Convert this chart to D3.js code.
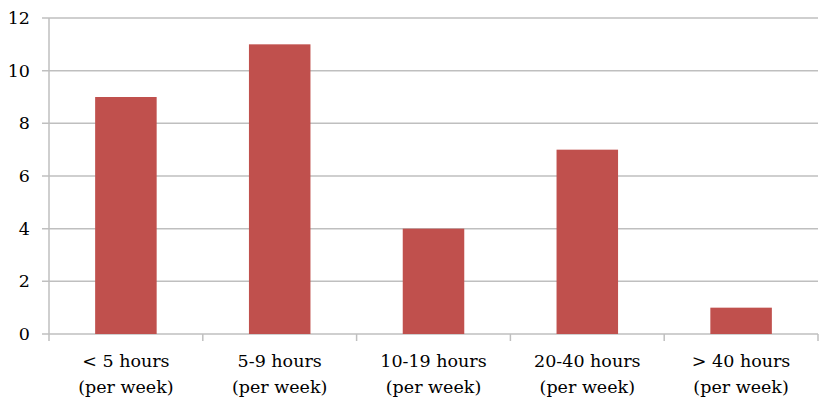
<!DOCTYPE html>
<html>
<head>
<meta charset="utf-8">
<script src="https://cdn.jsdelivr.net/npm/d3@7"></script>
<style>
  body{margin:0;background:#fff;}
</style>
</head>
<body>
<svg></svg>
<script>
var categories = ["< 5 hours|(per week)","5-9 hours|(per week)","10-19 hours|(per week)","20-40 hours|(per week)","> 40 hours|(per week)"];
var values = [9,11,4,7,1];
var yTicks = [0,2,4,6,8,10,12];

var width = 830, height = 405;
var margins = {left:49,right:12,top:18,bot:71};
var serif = "DejaVu Serif";

var svg = d3.select("svg").attr("width",width).attr("height",height);

var xScale = d3.scaleBand()
               .domain(categories)
               .range([margins.left,width-margins.right])
               .paddingInner(0.6)
               .paddingOuter(0.3);
var yScale = d3.scaleLinear()
               .domain([0,12])
               .range([height-margins.bot,margins.top]);

// gridlines
svg.append("g")
   .selectAll("line")
   .data(yTicks)
   .enter().append("line")
   .attr("x1",margins.left-7)
   .attr("x2",width-margins.right)
   .attr("y1",function(d){return yScale(d);})
   .attr("y2",function(d){return yScale(d);})
   .attr("stroke","#bfbfbf")
   .attr("stroke-width",1.5);

// y labels
svg.append("g")
   .selectAll("text")
   .data(yTicks)
   .enter().append("text")
   .attr("x",30)
   .attr("y",function(d){return yScale(d);})
   .attr("dy","0.35em")
   .attr("text-anchor","end")
   .attr("font-size",17.5)
   .attr("font-family",serif)
   .attr("fill","#000")
   .text(function(d){return d;});

// bars
svg.append("g")
   .selectAll("rect")
   .data(values)
   .enter().append("rect")
   .attr("x",function(d,i){return xScale(categories[i]);})
   .attr("width",xScale.bandwidth())
   .attr("y",function(d){return yScale(d);})
   .attr("height",function(d){return yScale(0)-yScale(d);})
   .attr("fill","#c0504d");

// y axis line
svg.append("line")
   .attr("x1",margins.left).attr("x2",margins.left)
   .attr("y1",yScale(12)).attr("y2",yScale(0)+7)
   .attr("stroke","#bfbfbf").attr("stroke-width",1.5);

// category tick marks
var bounds = d3.range(categories.length+1).map(function(i){return margins.left + i*(width-margins.right-margins.left)/categories.length;});
svg.append("g")
   .selectAll("line")
   .data(bounds.slice(1))
   .enter().append("line")
   .attr("x1",function(d){return d;}).attr("x2",function(d){return d;})
   .attr("y1",yScale(0)).attr("y2",yScale(0)+7)
   .attr("stroke","#bfbfbf").attr("stroke-width",1.5);

// category labels
var lab = svg.append("g")
   .selectAll("text")
   .data(categories)
   .enter().append("text")
   .attr("text-anchor","middle")
   .attr("font-size",17.5)
   .attr("font-family",serif)
   .attr("fill","#000");
lab.each(function(d){
  var t = d3.select(this);
  var cx = xScale(d)+xScale.bandwidth()/2;
  d.split("|").forEach(function(s,j){
    t.append("tspan").attr("x",cx).attr("y",367+j*26).text(s);
  });
});
</script>
</body>
</html>
